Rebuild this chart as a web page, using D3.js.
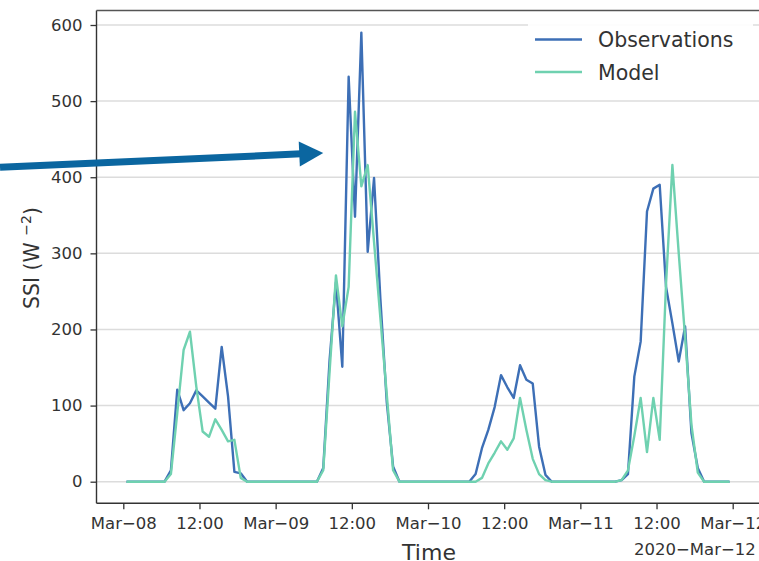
<!DOCTYPE html>
<html lang="en">
<head>
  <meta charset="utf-8">
  <title>SSI observations vs model</title>
  <script src="https://d3js.org/d3.v7.min.js"></script>
</head>
<style>
  body { margin: 0; background: #fff; }
  text { font-family: "Century Gothic", "URW Gothic", "DejaVu Sans", sans-serif; fill: #333; }
</style>
<body>
  <div class="chart"></div>
</body>
<script>
// hourly means, first value at 2020-03-08 00:30 UTC
var startTime = "2020-03-08T00:30:00Z";
var observations = [
  0, 0, 0, 0, 0, 0, 0, 15, 121, 94, 103, 120, 112, 104, 96, 177, 112, 13, 11, 0, 0, 0, 0, 0,
  0, 0, 0, 0, 0, 0, 0, 18, 160, 262, 151, 532, 348, 590, 302, 399, 240, 105, 20, 0, 0, 0, 0, 0,
  0, 0, 0, 0, 0, 0, 0, 10, 44, 68, 98, 140, 124, 110, 153, 134, 129, 46, 9, 0, 0, 0, 0, 0,
  0, 0, 0, 0, 0, 0, 2, 10, 138, 184, 355, 385, 390, 256, 208, 158, 204, 64, 18, 0, 0, 0, 0, 0
];
var model = [
  0, 0, 0, 0, 0, 0, 0, 10, 90, 173, 197, 125, 66, 59, 82, 68, 53, 55, 5, 0, 0, 0, 0, 0,
  0, 0, 0, 0, 0, 0, 0, 15, 145, 271, 204, 256, 486, 388, 416, 315, 215, 115, 15, 0, 0, 0, 0, 0,
  0, 0, 0, 0, 0, 0, 0, 0, 5, 24, 38, 53, 42, 57, 110, 68, 30, 10, 2, 0, 0, 0, 0, 0,
  0, 0, 0, 0, 0, 0, 2, 15, 60, 110, 39, 110, 55, 260, 416, 300, 190, 75, 12, 0, 0, 0, 0, 0
];
var seriesNames = ["Observations", "Model"];
var seriesColors = ["#3d6fb6", "#6fd1b0"];
var yTicks = [0, 100, 200, 300, 400, 500, 600];
var offsetLabel = "2020\u2212Mar\u221212";
// annotation arrow, in data units
var arrowTail = { time: "2020-03-07T04:35:00Z", value: 413 };
var arrowTip = { time: "2020-03-09T07:30:00Z", value: 432 };

var W = 759, H = 561;
var plot = { left: 96.5, top: 10.5, bottom: 503.3 };

var svg = d3.select(".chart").append("svg")
  .attr("width", W)
  .attr("height", H)
  .style("display", "block");

var t0 = new Date(startTime);
var times = observations.map(function(d, i) { return d3.utcHour.offset(t0, i); });

var x = d3.scaleUtc()
  .domain([new Date("2020-03-08T00:00:00Z"), new Date("2020-03-12T00:00:00Z")])
  .range([123.3, 732.7]);
var y = d3.scaleLinear().domain([0, 600]).range([481.7, 25]);

// grid
svg.append("g").selectAll("line")
  .data(yTicks)
  .enter().append("line")
  .attr("x1", plot.left).attr("x2", W)
  .attr("y1", function(d) { return y(d); })
  .attr("y2", function(d) { return y(d); })
  .attr("stroke", "#dcdcdc")
  .attr("stroke-width", 1.5);

// lines
var line = d3.line()
  .x(function(d, i) { return x(times[i]); })
  .y(function(d) { return y(d); });

[observations, model].forEach(function(s, k) {
  svg.append("path")
    .attr("d", line(s))
    .attr("fill", "none")
    .attr("stroke", seriesColors[k])
    .attr("stroke-width", 2.4)
    .attr("stroke-linejoin", "round");
});

// spines
svg.append("line").attr("x1", plot.left).attr("x2", plot.left)
  .attr("y1", plot.top).attr("y2", plot.bottom)
  .attr("stroke", "#333").attr("stroke-width", 1.4);
svg.append("line").attr("x1", plot.left).attr("x2", W)
  .attr("y1", plot.bottom).attr("y2", plot.bottom)
  .attr("stroke", "#333").attr("stroke-width", 1.4);
svg.append("line").attr("x1", plot.left).attr("x2", W)
  .attr("y1", plot.top).attr("y2", plot.top)
  .attr("stroke", "#555").attr("stroke-width", 1.4);

// y axis
var yAxis = svg.append("g")
  .attr("transform", "translate(" + plot.left + ",0)")
  .call(d3.axisLeft(y).tickValues(yTicks).tickSize(6).tickPadding(8));
yAxis.select(".domain").remove();
yAxis.selectAll(".tick line").attr("stroke", "#333").attr("stroke-width", 1.3);
yAxis.selectAll("text").attr("font-size", 16.5).attr("fill", "#333").attr("font-family", null);

// x axis
var fmt = function(d) {
  return d.getUTCHours() === 0 ? d3.utcFormat("%b")(d) + "\u2212" + d3.utcFormat("%d")(d) : "12:00";
};
var xAxis = svg.append("g")
  .attr("transform", "translate(0," + plot.bottom + ")")
  .call(d3.axisBottom(x).ticks(d3.utcHour.every(12)).tickFormat(fmt).tickSize(6).tickPadding(8));
xAxis.select(".domain").remove();
xAxis.selectAll(".tick line").attr("stroke", "#333").attr("stroke-width", 1.3);
xAxis.selectAll("text").attr("font-size", 16.5).attr("fill", "#333").attr("font-family", null);

svg.append("text")
  .attr("x", 634).attr("y", 555)
  .attr("font-size", 16.5)
  .text(offsetLabel);

// axis titles
svg.append("text")
  .attr("x", 429).attr("y", 560)
  .attr("text-anchor", "middle")
  .attr("font-size", 22)
  .text("Time");

var yl = svg.append("text")
  .attr("transform", "translate(39,258) rotate(-90)")
  .attr("text-anchor", "middle")
  .attr("font-size", 20.5);
yl.append("tspan").text("SSI (W ");
yl.append("tspan").attr("baseline-shift", "super").attr("font-size", 14).text("\u22122");
yl.append("tspan").text(")");

// legend
var legend = svg.append("g");
legend.append("rect")
  .attr("x", 528).attr("y", 18).attr("width", 225).attr("height", 78)
  .attr("fill", "#fff").attr("fill-opacity", 0.9);
seriesNames.forEach(function(name, k) {
  var ly = 39.5 + k * 32.5;
  legend.append("line")
    .attr("x1", 535).attr("x2", 582).attr("y1", ly).attr("y2", ly)
    .attr("stroke", seriesColors[k]).attr("stroke-width", 2.4);
  legend.append("text")
    .attr("x", 598).attr("y", ly + 7.5)
    .attr("font-size", 20.5)
    .text(name);
});

// annotation arrow
var ax0 = x(new Date(arrowTail.time)), ay0 = y(arrowTail.value);
var ax1 = x(new Date(arrowTip.time)), ay1 = y(arrowTip.value);
var ang = Math.atan2(ay1 - ay0, ax1 - ax0);
var headLen = 24, headHalf = 12.5;
var bx = ax1 - headLen * Math.cos(ang), by = ay1 - headLen * Math.sin(ang);
svg.append("line")
  .attr("x1", ax0).attr("y1", ay0).attr("x2", bx + 2 * Math.cos(ang)).attr("y2", by + 2 * Math.sin(ang))
  .attr("stroke", "#0b66a0").attr("stroke-width", 7);
svg.append("path")
  .attr("d", "M" + ax1 + "," + ay1 +
    "L" + (bx + headHalf * Math.sin(ang)) + "," + (by - headHalf * Math.cos(ang)) +
    "L" + (bx - headHalf * Math.sin(ang)) + "," + (by + headHalf * Math.cos(ang)) + "Z")
  .attr("fill", "#0b66a0");
</script>
</html>
